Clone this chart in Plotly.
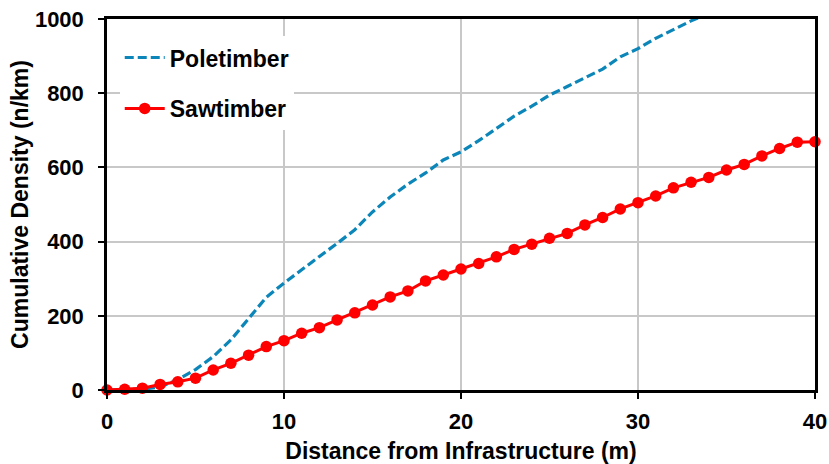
import plotly.graph_objects as go

distance_pole = list(range(0, 35))
poletimber = [0, 0, 2, 8, 28, 55, 90, 135, 192, 250, 288, 325, 360, 395, 432,
              480, 520, 555, 585, 620, 642, 672, 705, 738, 765, 795, 818, 842,
              865, 898, 920, 948, 972, 995, 1015]

distance_saw = list(range(0, 41))
sawtimber = [0, 2, 5, 15, 22, 32, 54, 72, 94, 117, 133, 153, 168, 189, 208,
             229, 251, 267, 294, 310, 326, 341, 359, 379, 393, 409, 422, 445,
             465, 488, 505, 523, 545, 560, 573, 593, 608, 631, 651, 668, 669]

x_ticks = [0, 10, 20, 30, 40]
y_ticks = [0, 200, 400, 600, 800, 1000]

FONT = "Liberation Sans, Arial, sans-serif"

fig = go.Figure()
fig.add_trace(go.Scatter(
    x=distance_pole, y=poletimber, mode="lines", name="<b>Poletimber</b>",
    line=dict(color="#0c86b8", width=3.2, dash="9px,4px"), legendgroup="a",
))
fig.add_trace(go.Scatter(
    x=distance_saw, y=sawtimber, mode="lines+markers", name="<b>Sawtimber</b>",
    line=dict(color="#ff0000", width=3),
    marker=dict(color="#ff0000", size=11.5), legendgroup="b", cliponaxis=False,
))

fig.update_layout(
    width=829, height=464,
    margin=dict(l=107, r=14, t=19, b=74, autoexpand=False),
    paper_bgcolor="white", plot_bgcolor="white",
    font=dict(family=FONT, size=22, color="black"),
    showlegend=True,
    legend=dict(
        x=0.018, y=0.954, xanchor="left", yanchor="top",
        bgcolor="white", font=dict(size=23, family=FONT, color="black"),
        tracegroupgap=18, itemwidth=40,
    ),
    xaxis=dict(
        range=[0, 40], tickvals=x_ticks, ticktext=[f"<b>{v}</b>" for v in x_ticks],
        tickfont=dict(size=22, family=FONT, color="black"),
        showgrid=True, gridcolor="#c8c8c8", gridwidth=1.5,
        showline=True, linecolor="black", linewidth=2.5, mirror=True,
        ticks="outside", ticklen=6, tickwidth=2, tickcolor="black",
        ticklabelstandoff=4,
        zeroline=False, automargin=False,
        title=dict(text="<b>Distance from Infrastructure (m)</b>", font=dict(size=23), standoff=10),
    ),
    yaxis=dict(
        range=[0, 1000], tickvals=y_ticks, ticktext=[f"<b>{v}</b>" for v in y_ticks],
        tickfont=dict(size=22, family=FONT, color="black"),
        showgrid=True, gridcolor="#c8c8c8", gridwidth=1.5,
        showline=True, linecolor="black", linewidth=2.5, mirror=True,
        ticks="outside", ticklen=6, tickwidth=2, tickcolor="black",
        ticklabelstandoff=10,
        zeroline=False, automargin=False,
        title=dict(text="<b>Cumulative Density (n/km)</b>", font=dict(size=23), standoff=0),
    ),
)

fig.write_html("out.html")
